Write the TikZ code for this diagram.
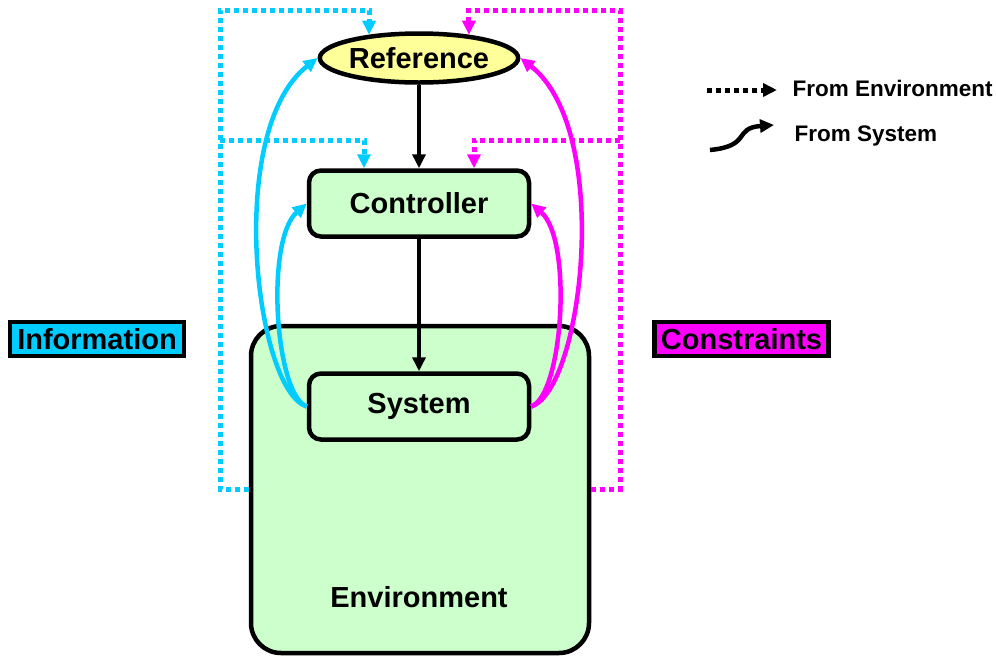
\documentclass[tikz,border=0pt]{standalone}
\usepackage{fontspec}
\setmainfont{Liberation Sans}
\usetikzlibrary{arrows.meta,shapes.geometric}
\definecolor{infocyan}{HTML}{00CCFF}
\definecolor{conmag}{HTML}{FF00FF}
\definecolor{refyellow}{HTML}{FFFF99}
\definecolor{boxgreen}{HTML}{CCFFCC}
\begin{document}
\begin{tikzpicture}[x=1pt,y=-1pt,
  bigfont/.style={font=\fontsize{29}{33}\selectfont\bfseries},
  blockbox/.style={draw, line width=4.5pt, rounded corners=12pt, fill=boxgreen,
    minimum width=220pt, minimum height=66pt, inner sep=0pt, bigfont},
  tagbox/.style={draw, line width=4.5pt, minimum width=174pt, minimum height=34pt,
    inner sep=0pt, bigfont},
  tip/.style={-{Triangle[length=14pt,width=13pt]}},
  flow/.style={line width=4.5pt, tip},
  dots/.style={line width=5pt, dash pattern=on 5pt off 4pt, tip},
  legendtext/.style={anchor=west, font=\fontsize{22.5}{26}\selectfont\bfseries},
]
\useasboundingbox (0,0) rectangle (996,657);

% environment block behind everything
\node[draw, line width=4.5pt, rounded corners=30pt, fill=boxgreen,
      minimum width=338pt, minimum height=327pt, inner sep=0pt]
      (env) at (420,489.5) {};
\node[bigfont] (envlabel) at (419,597) {Environment};

% main chain
\node[ellipse, draw, line width=4.5pt, fill=refyellow, minimum width=190pt,
      minimum height=49pt, inner sep=0pt, bigfont] (ref) at (419,58) {Reference};
\node[blockbox] (ctl) at (419,203.5) {Controller};
\node[blockbox] (sys) at (419,406.5) {System};

\draw[flow] (ref.south) -- (ctl.north);
\draw[flow] (ctl.south) -- (sys.north);

% information paths from the environment
\coordinate (cl) at (220,10);
\coordinate (cb) at (220,140);
\draw[dots, infocyan] (env.west) -| (cl) -| (ref.155);
\draw[dots, infocyan] (cb) -| ([xshift=-55pt]ctl.north);

% constraint paths from the environment
\coordinate (cr) at (620,10);
\coordinate (crb) at (620,140);
\draw[dots, conmag] (env.east) -| (cr) -| (ref.25);
\draw[dots, conmag] (crb) -| ([xshift=55pt]ctl.north);

% feedback from the system
\draw[flow, infocyan] (sys.west) .. controls (255,390) and (225,130) .. (ref.west);
\draw[flow, infocyan] (sys.west) .. controls (275,395) and (265,240) .. (ctl.west);
\draw[flow, conmag] (sys.east) .. controls (583,390) and (613,130) .. (ref.east);
\draw[flow, conmag] (sys.east) .. controls (563,395) and (573,240) .. (ctl.east);

% side tags
\node[tagbox, fill=infocyan] (info) at (97,339) {Information};
\node[tagbox, fill=conmag] (cons) at (741.5,339) {Constraints};

% legend
\coordinate (la) at (707,90);
\coordinate (lb) at (777,90);
\draw[dots, black] (la) -- (lb);
\node[legendtext] (lenv) at (789,88) {From Environment};
\coordinate (lc) at (710,150);
\coordinate (ld) at (774,125);
\draw[flow] (lc) .. controls (752,146) and (733,128) .. (ld);
\node[legendtext] (lsys) at (791,136) {From System};
\end{tikzpicture}
\end{document}
